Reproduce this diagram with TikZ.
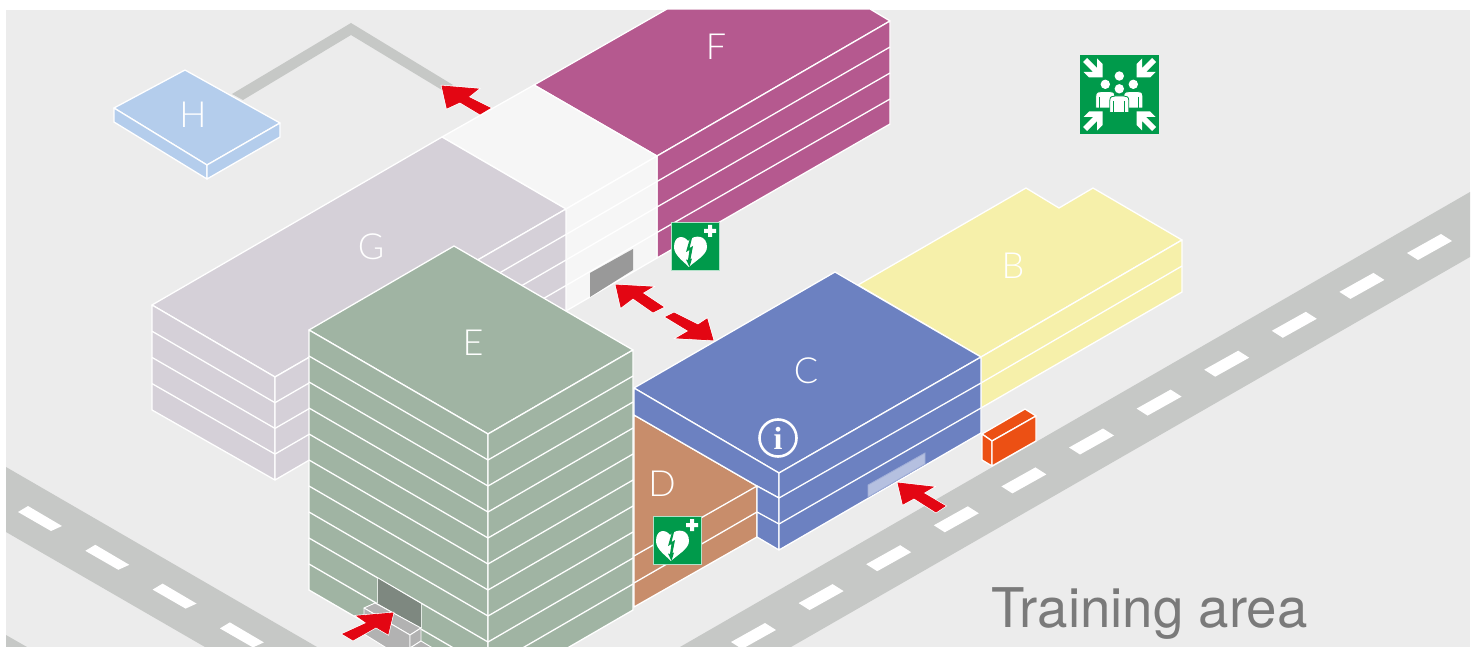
\documentclass[tikz,border=0pt]{standalone}
\usepackage{fontspec}
\newfontfamily\lightfont{Lato Light}
\newfontfamily\areafont{TeX Gyre Heros}
\newfontfamily\infofont{Liberation Serif}
\definecolor{siteGround}{HTML}{ECECEC}
\definecolor{siteRoad}{HTML}{C6C8C6}
\definecolor{bldB}{HTML}{F6F0AA}
\definecolor{bldC}{HTML}{6C81C1}
\definecolor{bldD}{HTML}{C88D6B}
\definecolor{bldE}{HTML}{A0B4A3}
\definecolor{bldF}{HTML}{B5598F}
\definecolor{bldG}{HTML}{D5D0D8}
\definecolor{bldH}{HTML}{B4CDEC}
\definecolor{bldLink}{HTML}{F6F6F6}
\definecolor{doorE}{HTML}{7E8880}
\definecolor{signGreen}{HTML}{009A4B}
\definecolor{arrowRed}{HTML}{E30613}
\definecolor{hoseOrange}{HTML}{EC5014}
\usetikzlibrary{arrows.meta,positioning,calc}
\tikzset{
  aed/.pic={
    \fill[signGreen,draw=white!70!signGreen,line width=0.6pt] (0,0) rectangle (48,48);
    \fill[white] (17,19) .. controls (13,13) and (3,13) .. (3,25) .. controls (3,33) and (12,39) .. (18,45)
      .. controls (24,39) and (36,33) .. (36,25) .. controls (36,13) and (24,12) .. (17,19) -- cycle;
    \fill[signGreen] (19,16) -- (15,30) -- (18.5,28) -- (17,38) -- (15,37.5) -- (18.5,45) -- (21,36.5) -- (19.5,37) -- (22,24) -- (18.5,26) -- (21,16) -- cycle;
    \fill[white] (37,3) rectangle (41,15) (33,7) rectangle (45,11);
  }
}
\begin{document}
\begin{tikzpicture}[
  x=1pt,y=-1pt,
  wall/.style={draw=white,line width=1.3pt,line join=round},
  edgeline/.style={draw=white,line width=1.3pt},
  redarrow/.style={fill=arrowRed,draw=arrowRed,line width=0.8pt,line join=miter,preaction={draw=white,line width=2.2pt}},
  lbl/.style={font=\lightfont\fontsize{36}{36}\selectfont,text=white,inner sep=0pt},
  person/.style={fill=white,draw=signGreen,line width=0.8pt}
]
\useasboundingbox (0,0) rectangle (1478,647);
\begin{scope}
\clip (6,10) rectangle (1470,647);
\fill[siteGround] (6,10) rectangle (1470,647);
\fill[siteRoad] (1470,192) -- (680,647) -- (791,647) -- (1470,257) -- cycle;
\fill[siteRoad] (6,467) -- (317,647) -- (205,647) -- (6,532) -- cycle;
\fill[siteRoad] (6,635) -- (27,647) -- (6,647) -- cycle;
\foreach \k in {0,...,10}
  \fill[white] ({1441-67.6*\k},{234+38.9*\k}) -- ({1452-67.6*\k},{241+38.9*\k}) -- ({1418-67.6*\k},{260+38.9*\k}) -- ({1407-67.6*\k},{253+38.9*\k}) -- cycle;
\foreach \k in {0,...,3}
  \fill[white] ({18+67.3*\k},{512+38.8*\k}) -- ({28+67.3*\k},{506+38.8*\k}) -- ({62+67.3*\k},{526+38.8*\k}) -- ({51+67.3*\k},{531+38.8*\k}) -- cycle;
\fill[siteRoad] (232,94) -- (351,23) -- (453,85) -- (442,90) -- (351,35) -- (243,100) -- cycle;
\filldraw[wall,fill=bldH] (114,108) -- (185,70) -- (280,123) -- (207,165) -- cycle;
\filldraw[wall,fill=bldH] (114,108) -- (207,165) -- (207,179) -- (114,122) -- cycle;
\filldraw[wall,fill=bldH] (207,165) -- (280,123) -- (280,137) -- (207,179) -- cycle;
\node[lbl] (labelH) at (193,115) {H};
\filldraw[wall,fill=bldF] (534,85) -- (667,9) -- (870,9) -- (890,21) -- (657,156) -- cycle;
\filldraw[wall,fill=bldF] (657,156) -- (890,21) -- (890,124) -- (657,258) -- cycle;
\foreach \k in {1,2,3}
  \draw[edgeline] (657,{156+25.5*\k}) -- (890,{21+26*\k});
\node[lbl] (labelF) at (716,47) {F};
\filldraw[wall,fill=bldLink] (442,137) -- (534,85) -- (657,156) -- (566,209) -- cycle;
\filldraw[wall,fill=bldLink] (566,209) -- (657,156) -- (657,258) -- (566,311) -- cycle;
\foreach \k in {1,2,3}
  \draw[edgeline] (566,{209+25.5*\k}) -- (657,{156+25.5*\k});
\fill[black!40] (590,273) -- (633,249) -- (633,270) -- (590,297) -- cycle;
\filldraw[wall,fill=bldG] (152,305) -- (442,137) -- (566,209) -- (275,377) -- cycle;
\filldraw[wall,fill=bldG] (152,305) -- (275,377) -- (275,480) -- (152,410) -- cycle;
\filldraw[wall,fill=bldG] (275,377) -- (566,209) -- (566,311) -- (275,480) -- cycle;
\foreach \k in {1,2,3} {
  \draw[edgeline] (152,{305+26.2*\k}) -- (275,{377+25.7*\k});
  \draw[edgeline] (275,{377+25.7*\k}) -- (566,{209+25.5*\k});
}
\node[lbl] (labelG) at (371,247) {G};
\filldraw[wall,fill=bldB] (858,285) -- (1026,188) -- (1059,208) -- (1093,188) -- (1182,240) -- (981,357) -- cycle;
\filldraw[wall,fill=bldB] (981,357) -- (1182,240) -- (1182,292) -- (981,408) -- cycle;
\draw[edgeline] (981,383) -- (1182,266);
\node[lbl] (labelB) at (1013,266) {B};
\filldraw[wall,fill=bldD] (634,415) -- (757,486) -- (757,537) -- (634,607) -- cycle;
\draw[edgeline] (634,556) -- (757,486);
\draw[edgeline] (634,583) -- (757,512);
\node[lbl] (labelD) at (662,484) {D};
\pic at (671,222) {aed};
\pic at (653,516) {aed};
\filldraw[wall,fill=bldC] (634,388) -- (835,272) -- (981,357) -- (779,473) -- cycle;
\filldraw[wall,fill=bldC] (634,388) -- (779,473) -- (779,498) -- (757,486) -- (634,415) -- cycle;
\filldraw[wall,fill=bldC] (757,486) -- (779,498) -- (779,550) -- (757,537) -- cycle;
\filldraw[wall,fill=bldC] (779,473) -- (981,357) -- (981,433) -- (779,550) -- cycle;
\draw[edgeline] (779,498) -- (981,383);
\draw[edgeline] (779,524) -- (981,408);
\draw[edgeline] (757,512) -- (779,524);
\filldraw[fill=bldC!50!white,draw=bldC!65!white,line width=0.8pt] (868,485) -- (925,453) -- (925,464) -- (868,497) -- cycle;
\node[circle,draw=white,line width=2.6pt,minimum size=37pt,inner sep=0pt,text=white,font=\infofont\bfseries\fontsize{32}{32}\selectfont] (info) at (778,438) {i};
\node[lbl] (labelC) at (806,371) {C};
\filldraw[wall,fill=bldE] (309,330) -- (454,246) -- (633,350) -- (488,434) -- cycle;
\filldraw[wall,fill=bldE] (309,330) -- (488,434) -- (488,694) -- (309,590) -- cycle;
\filldraw[wall,fill=bldE] (488,434) -- (633,350) -- (633,610) -- (488,694) -- cycle;
\foreach \k in {1,...,9} {
  \draw[edgeline] (309,{330+26*\k}) -- (488,{434+26*\k});
  \draw[edgeline] (488,{434+26*\k}) -- (633,{350+26*\k});
}
\node[lbl] (labelE) at (473,343) {E};
\fill[doorE] (377,578) -- (421,604) -- (421,628) -- (377,603) -- cycle;
\draw[white!70!bldE,line width=0.8pt] (377,578) -- (377,603) (421,604) -- (421,628);
\filldraw[wall,fill=black!30,line width=0.9pt] (364,608) -- (375,603) -- (421,628) -- (410,635) -- cycle;
\filldraw[wall,fill=black!30,line width=0.9pt] (364,608) -- (410,635) -- (410,660) -- (385,647) -- (364,634) -- cycle;
\filldraw[wall,fill=black!30,line width=0.9pt] (410,635) -- (421,628) -- (421,641) -- (410,648) -- cycle;
\filldraw[wall,fill=black!30,line width=0.9pt] (410,648) -- (421,641) -- (436,650) -- (425,657) -- cycle;
\filldraw[wall,fill=hoseOrange] (982,434) -- (1025,409) -- (1036,416) -- (992,441) -- cycle;
\filldraw[wall,fill=hoseOrange] (982,434) -- (992,441) -- (992,466) -- (982,460) -- cycle;
\filldraw[wall,fill=hoseOrange] (992,441) -- (1036,416) -- (1036,441) -- (992,466) -- cycle;
\filldraw[redarrow] (393,613) -- (357,616) -- (367,623) -- (343,634) -- (353,640) -- (376,627) -- (388,634) -- cycle;
\filldraw[redarrow] (442,86) -- (478,89) -- (468,97) -- (490,108) -- (480,114) -- (460,102) -- (447,108) -- cycle;
\filldraw[redarrow] (616,285) -- (652,287) -- (642,293) -- (663,307) -- (653,312) -- (633,298) -- (621,307) -- cycle;
\filldraw[redarrow] (674,313) -- (666,317) -- (689,331) -- (677,338) -- (713,340) -- (707,319) -- (698,325) -- cycle;
\filldraw[redarrow] (898,483) -- (933,487) -- (923,493) -- (945,506) -- (936,512) -- (914,498) -- (903,504) -- cycle;
\fill[signGreen] (1080,55) rectangle (1159,134);
\foreach \sx/\sy in {1/1,-1/1,1/-1,-1/-1} {
  \begin{scope}[shift={(1119.5,94.5)},xscale=\sx,yscale=\sy,shift={(-39.5,-39.5)}]
    \fill[white] (7,3) -- (17,13) -- (17,3.5) -- (22.5,9) -- (22.5,22.5) -- (9,22.5) -- (3.5,17) -- (13,17) -- (3,7) -- cycle;
  \end{scope}
}
\begin{scope}[shift={(1080,55)}]
\fill[white] (39.3,21) circle (4.7);
\foreach \cx/\cy in {25.3/0,53.3/0,39.3/4.5} {
  \fill[white] (\cx,{29.3+\cy}) circle (4.7);
  \filldraw[person] ({\cx-9.5},{53+\cy}) -- ({\cx-9.5},{41+\cy}) .. controls ({\cx-9.5},{37+\cy}) and ({\cx-7},{36.5+\cy}) .. ({\cx-4},{36.5+\cy})
    -- ({\cx+4},{36.5+\cy}) .. controls ({\cx+7},{36.5+\cy}) and ({\cx+9.5},{37+\cy}) .. ({\cx+9.5},{41+\cy}) -- ({\cx+9.5},{53+\cy}) -- cycle;
  \draw[signGreen,line width=0.8pt] ({\cx-5.5},{42+\cy}) -- ({\cx-5.5},{53+\cy}) ({\cx+5.5},{42+\cy}) -- ({\cx+5.5},{53+\cy});
}
\end{scope}
\node[font=\areafont\fontsize{54.7}{55}\selectfont,text=black!52,anchor=base west,inner sep=0pt] (area) at (991,627) {Training area};
\end{scope}
\end{tikzpicture}
\end{document}
